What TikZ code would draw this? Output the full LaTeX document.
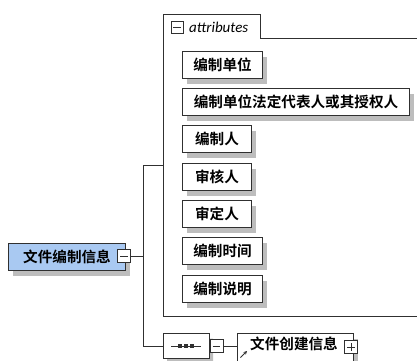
\documentclass[tikz,border=0pt]{standalone}
\usepackage{fontspec}
\setmainfont{Carlito}
\newfontfamily\cjk{Noto Sans CJK SC}[BoldFont={Noto Sans CJK SC Bold}]
\usetikzlibrary{shadows,shapes.misc,arrows.meta}
\definecolor{lineclr}{HTML}{303030}
\definecolor{mainfill}{HTML}{A9C9F2}
\definecolor{shadowclr}{HTML}{BDBDBD}
\tikzset{
  cjkfont/.style={font=\cjk\bfseries\fontsize{14.6}{15}\selectfont},
  elem/.style={draw=lineclr, line width=1pt, fill=white, anchor=north west,
    minimum height=27pt, inner sep=0pt, cjkfont,
    general shadow={fill=shadowclr, shadow xshift=4pt, shadow yshift=-5pt}},
  pmbox/.style={draw=lineclr, line width=0.9pt, fill=white, minimum width=12pt,
    minimum height=12pt, inner sep=0pt},
  conn/.style={draw=lineclr, line width=1pt},
}
\begin{document}
\begin{tikzpicture}[x=1pt,y=-1pt]
\useasboundingbox (0,0) rectangle (417,360);
% attributes group
\draw[conn] (420,38) -- (260,38) -- (260,14) -- (163,14) -- (163,316) -- (420,316);
\node[pmbox, minimum width=12pt, minimum height=12pt] (attmin) at (177,27) {};
\draw[conn, line width=0.9pt] (173,27) -- (181,27);
\node[anchor=west, font=\itshape\fontsize{15}{16}\selectfont, inner sep=0pt] (atttxt) at (189,27) {attributes};
% attribute elements
\node[elem, minimum width=80pt] (a1) at (182,51) {编制单位};
\node[elem, minimum width=227pt] (a2) at (182,88) {编制单位法定代表人或其授权人};
\node[elem, minimum width=69pt] (a3) at (182,125) {编制人};
\node[elem, minimum width=69pt] (a4) at (182,163) {审核人};
\node[elem, minimum width=69pt] (a5) at (182,200) {审定人};
\node[elem, minimum width=80pt] (a6) at (182,237) {编制时间};
\node[elem, minimum width=80pt] (a7) at (182,275) {编制说明};
% main element
\node[elem, fill=mainfill, minimum width=117pt, minimum height=27pt] (main) at (8,243) {文件编制信息};
\node[pmbox, minimum width=13pt, minimum height=13pt] (mainmin) at (124,256) {};
\draw[conn, line width=0.9pt] (120,256) -- (128,256);
% junction
\coordinate (jm) at (143,256);
\coordinate (jt) at (143,165);
\coordinate (jb) at (143,346);
\coordinate (gl) at (163,165);
\draw[conn] (mainmin.east) -- (jm);
\draw[conn] (jt) -- (jb);
\draw[conn] (jt) -- (gl);
% sequence compositor
\node[chamfered rectangle, chamfered rectangle xsep=7pt, chamfered rectangle ysep=7pt,
  draw=lineclr, line width=1pt, fill=white, minimum width=46pt, minimum height=25pt, inner sep=0pt,
  general shadow={fill=shadowclr, shadow xshift=4pt, shadow yshift=-5pt}] (seq) at (186,346) {};
\draw[conn] (171,346) -- (201,346);
\foreach \dx in {180,186,192} \fill[lineclr] (\dx-2,344.3) rectangle (\dx+2,347.7);
\draw[conn] (jb) -- (seq.west);
\node[pmbox, minimum width=13pt, minimum height=13pt, anchor=west] (seqmin) at (seq.east) {};
\draw[conn, line width=0.9pt] ([xshift=3pt]seqmin.west) -- ([xshift=-3pt]seqmin.east);
% referenced element
\node[elem, minimum width=116pt, minimum height=32pt] (ref) at (237,333) {};
\node[cjkfont, anchor=west, inner sep=0pt] (reftxt) at (250,344) {文件创建信息};
\draw[conn] (seqmin.east) -- (ref.west |- seqmin.east);
\draw[lineclr, line width=1pt, -{Stealth[length=3.5pt,width=3.5pt]}] (240.5,357.5) -- (247,351);
\node[pmbox, minimum width=13pt, minimum height=13pt] (refplus) at (351,347) {};
\draw[conn, line width=0.9pt] (347,347) -- (355,347);
\draw[conn, line width=0.9pt] (351,343) -- (351,351);
\end{tikzpicture}
\end{document}
